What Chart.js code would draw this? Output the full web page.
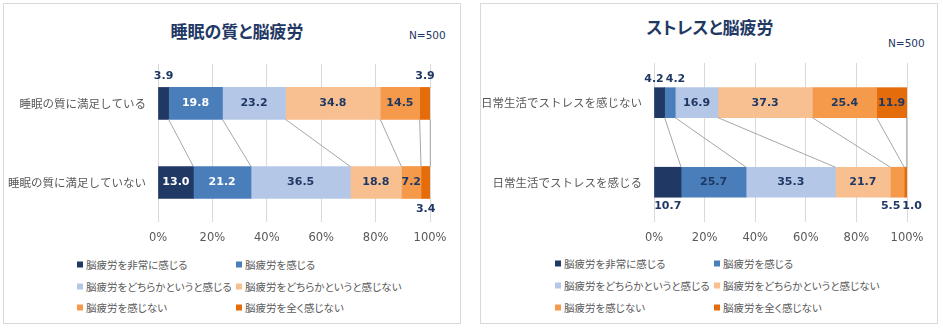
<!DOCTYPE html>
<html>
<head>
<meta charset="utf-8">
<script src="https://cdn.jsdelivr.net/npm/chart.js@4.4.1/dist/chart.umd.min.js"></script>
<style>
  body { margin: 0; background: #fff; width: 943px; height: 329px; position: relative; overflow: hidden; }
  .panel { position: absolute; top: 3px; width: 456px; height: 319px; border: 1px solid #d9d9d9; }
  .title { position: absolute; color: #1f3864; font-family: "Noto Sans CJK JP"; font-weight: bold; white-space: nowrap; transform: translate(-50%, -50%); font-feature-settings: "palt"; }
  .nlabel { position: absolute; color: #1f3864; font-family: "DejaVu Sans"; font-size: 10.5px; transform: translateY(-50%); }
  canvas { position: absolute; }
  .leg { position: absolute; font-family: "Noto Sans CJK JP"; font-size: 10.5px; color: #595959; white-space: nowrap; transform: translateY(-50%); font-feature-settings: "palt"; }
  .leg i { display: inline-block; width: 6px; height: 6px; margin-right: 3px; vertical-align: 1px; }
</style>
</head>
<body>
<div class="panel" style="left:3px"></div>
<div class="panel" style="left:480px"></div>
<div class="title" style="left:237px; top:30px; font-size:17px">睡眠の質と脳疲労</div>
<div class="title" style="left:710px; top:26px; font-size:17px">ストレスと脳疲労</div>
<div class="nlabel" style="left:409px; top:35px">N=500</div>
<div class="nlabel" style="left:888px; top:43px">N=500</div>
<canvas id="sleepChart" style="left:4px; top:45px" width="455" height="210"></canvas>
<canvas id="stressChart" style="left:481px; top:44px" width="456" height="211"></canvas>
<div id="sleepLegend"></div>
<div id="stressLegend"></div>
<script>
// series (fatigue levels)
const seriesNames = ['脳疲労を非常に感じる', '脳疲労を感じる', '脳疲労をどちらかというと感じる',
                     '脳疲労をどちらかというと感じない', '脳疲労を感じない', '脳疲労を全く感じない'];
const seriesColors = ['#203864', '#4a7ebb', '#b4c7e7', '#f8c090', '#f59a4a', '#e46c0a'];

// sleep chart
const sleepCategories = ['睡眠の質に満足している', '睡眠の質に満足していない'];
const sleepSatisfied = [3.9, 19.8, 23.2, 34.8, 14.5, 3.9];
const sleepUnsatisfied = [13.0, 21.2, 36.5, 18.8, 7.2, 3.4];

// stress chart
const stressCategories = ['日常生活でストレスを感じない', '日常生活でストレスを感じる'];
const stressLow = [4.2, 4.2, 16.9, 37.3, 25.4, 11.9];
const stressHigh = [10.7, 25.7, 35.3, 21.7, 5.5, 1.0];

const tickStep = 20;
const navy = '#1f3864';

// series lines + value labels
const barExtras = {
    id: 'barExtras',
    afterDatasetsDraw(chart, args, opts) {
        const ctx = chart.ctx;
        const n = chart.data.datasets.length;
        ctx.save();
        ctx.strokeStyle = '#a6a6a6';
        ctx.lineWidth = 1;
        for (let i = 0; i < n; i++) {
            const m = chart.getDatasetMeta(i);
            const a = m.data[0], b = m.data[1];
            ctx.beginPath();
            ctx.moveTo(a.x, a.y + a.height / 2);
            ctx.lineTo(b.x, b.y - b.height / 2);
            ctx.stroke();
        }
        ctx.font = 'bold 11px "DejaVu Sans"';
        ctx.textAlign = 'center';
        ctx.textBaseline = 'middle';
        for (let r = 0; r < 2; r++) {
            const outside = [];
            for (let i = 0; i < n; i++) {
                const el = chart.getDatasetMeta(i).data[r];
                const v = chart.data.datasets[i].data[r];
                const cx = (el.x + el.base) / 2;
                const txt = v.toFixed(1);
                if (v >= opts.minInside) {
                    ctx.fillStyle = opts.insideColors[i];
                    ctx.fillText(txt, cx, el.y);
                } else {
                    outside.push({
                        txt: txt, x: cx,
                        y: r === 0 ? el.y - el.height / 2 - opts.gap : el.y + el.height / 2 + opts.gap,
                        w: ctx.measureText(txt).width + 2
                    });
                }
            }
            for (let k = 1; k < outside.length; k++) {
                const p = outside[k - 1], q = outside[k];
                const need = (p.w + q.w) / 2 - (q.x - p.x);
                if (need > 0) { p.x -= need / 2; q.x += need / 2; }
            }
            ctx.fillStyle = navy;
            outside.forEach(o => ctx.fillText(o.txt, o.x, o.y));
        }
        ctx.restore();
    }
};

function makeChart(id, categories, rowA, rowB, cfg) {
    const ctx = document.getElementById(id).getContext('2d');
    return new Chart(ctx, {
        type: 'bar',
        data: {
            labels: categories,
            datasets: seriesNames.map((name, i) => ({
                label: name,
                data: [rowA[i], rowB[i]],
                backgroundColor: seriesColors[i],
                barThickness: cfg.barThickness
            }))
        },
        options: {
            indexAxis: 'y',
            responsive: false,
            animation: false,
            layout: { padding: { top: cfg.padTop, right: cfg.padRight, left: 0, bottom: 0 } },
            plugins: {
                legend: { display: false },
                tooltip: { enabled: false },
                barExtras: { minInside: cfg.minInside, insideColors: cfg.insideColors, gap: cfg.gap }
            },
            scales: {
                x: {
                    stacked: true, min: 0, max: 100,
                    grid: { color: '#d9d9d9', drawTicks: false },
                    border: { display: false },
                    ticks: {
                        stepSize: tickStep, padding: 9, color: '#595959',
                        font: { family: 'DejaVu Sans', size: 11.5 },
                        callback: v => v + '%'
                    },
                    afterFit: s => { s.height = cfg.xHeight; }
                },
                y: {
                    stacked: true,
                    grid: { display: false, drawTicks: false },
                    border: { display: false },
                    ticks: { padding: 12, color: '#595959', font: { family: 'Noto Sans CJK JP', size: 11.5 } },
                    afterFit: s => { s.width = cfg.yWidth; }
                }
            }
        },
        plugins: [barExtras]
    });
}

function makeLegend(id, colX, rowY) {
    const box = document.getElementById(id);
    seriesNames.forEach((name, i) => {
        const d = document.createElement('div');
        d.className = 'leg';
        d.style.left = colX[i % 2] + 'px';
        d.style.top = rowY[Math.floor(i / 2)] + 'px';
        d.innerHTML = '<i style="background:' + seriesColors[i] + '"></i>' + name;
        box.appendChild(d);
    });
}

makeChart('sleepChart', sleepCategories, sleepSatisfied, sleepUnsatisfied, {
    barThickness: 32, padTop: 12, padRight: 29, xHeight: 33, yWidth: 154,
    minInside: 5, gap: 11,
    insideColors: ['#ffffff', '#ffffff', navy, navy, navy, navy]
});
makeChart('stressChart', stressCategories, stressLow, stressHigh, {
    barThickness: 30, padTop: 12, padRight: 30, xHeight: 33, yWidth: 173,
    minInside: 11, gap: 9,
    insideColors: [navy, navy, navy, navy, navy, navy]
});
makeLegend('sleepLegend', [77, 236], [264, 286, 307]);
makeLegend('stressLegend', [555, 714], [263, 285, 307]);
</script>
</body>
</html>
